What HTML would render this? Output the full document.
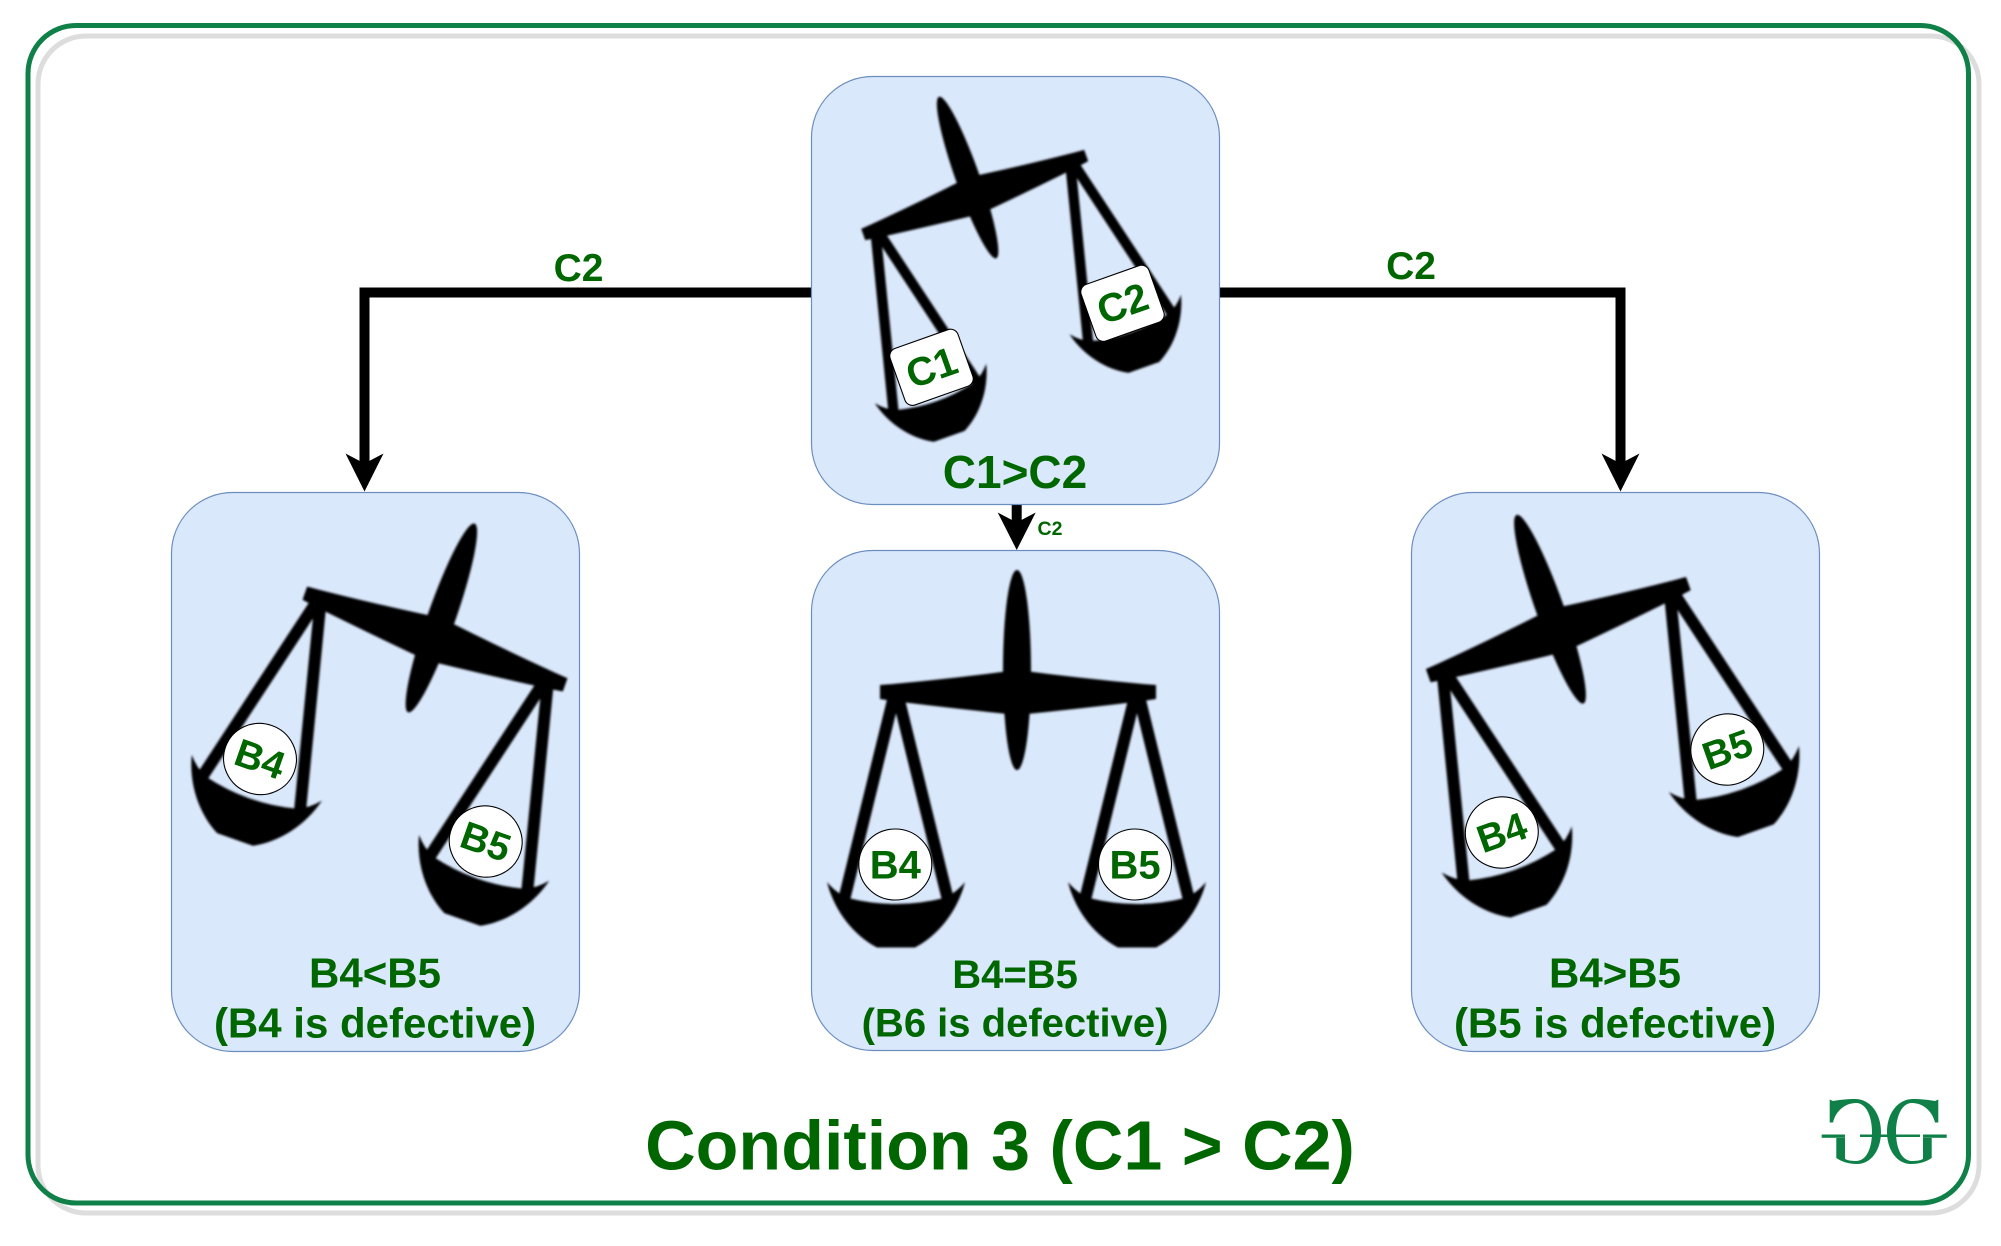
<!DOCTYPE html>
<html lang="en">
<head>
<meta charset="utf-8">
<title>Condition 3 (C1 &gt; C2)</title>
<style>
html,body{margin:0;padding:0;background:#fff;}
svg{display:block;}
text{font-family:"Liberation Sans",Arial,sans-serif;font-weight:700;fill:#006600;text-anchor:middle;}
.box{fill:#dae8fc;stroke:#6c8ebf;stroke-width:1.2;}
.lbl{fill:#fff;stroke:#000;stroke-width:1.1;}
</style>
</head>
<body>
<svg width="2001" height="1246" viewBox="0 0 2001 1246" xmlns="http://www.w3.org/2000/svg">
<defs>
<filter id="soft" x="-10%" y="-10%" width="120%" height="120%"><feGaussianBlur stdDeviation="1.1"/></filter>
<g id="scale" filter="url(#soft)">
  <ellipse cx="-1" cy="-22" rx="14" ry="100" fill="#000"/>
  <path d="M-138,-7 L-125,-8 Q-60,-14 -1,-22 Q60,-14 125,-8 L138,-7 L138,7 L125,9 Q60,17 -1,23 Q-60,17 -125,9 L-138,7 Z" fill="#000"/>
  <g stroke="#000" stroke-width="12" fill="none">
    <path d="M-175,212 L-122,-4 L-69,212"/>
    <path d="M66,212 L119,-4 L172,212"/>
  </g>
  <path d="M-191,190 C-184,218 -165,243 -141,255.5 L-103,255.5 C-79,243 -60,218 -53,190 Q-62,201 -74,206 Q-122,218 -170,206 Q-182,201 -191,190 Z" fill="#000"/>
  <path d="M50,190 C57,218 76,243 100,255.5 L138,255.5 C162,243 181,218 188,190 Q179,201 167,206 Q119,218 71,206 Q59,201 50,190 Z" fill="#000"/>
</g>
</defs>

<rect x="0" y="0" width="2001" height="1246" fill="#fff"/>

<!-- frame -->
<rect x="38" y="36" width="1941" height="1177" rx="48" ry="48" fill="#fff" stroke="#dddddd" stroke-width="5"/>
<rect x="28" y="25.5" width="1940.5" height="1177.5" rx="48" ry="48" fill="none" stroke="#0f8047" stroke-width="5"/>

<!-- connectors -->
<g fill="none" stroke="#000" stroke-width="10">
  <path d="M811,292.5 H364.5 V465"/>
  <path d="M1219,292.5 H1620.5 V465"/>
  <path d="M1016.7,504 V525"/>
</g>
<path d="M364.5,491.5 L345.5,453.5 L364.5,463.5 L383.5,453.5 Z" fill="#000"/>
<path d="M1620.5,491.5 L1601.5,453.5 L1620.5,463.5 L1639.5,453.5 Z" fill="#000"/>
<path d="M1016.7,550 L997.7,512.5 L1016.7,522.5 L1035.7,512.5 Z" fill="#000"/>

<!-- boxes -->
<rect class="box" x="811.5" y="76.5" width="408" height="428" rx="61" ry="61"/>
<rect class="box" x="171.5" y="492.5" width="408" height="559" rx="61" ry="61"/>
<rect class="box" x="811.5" y="550.5" width="408" height="500" rx="61" ry="61"/>
<rect class="box" x="1411.5" y="492.5" width="408" height="559" rx="61" ry="61"/>

<!-- scales -->
<use href="#scale" transform="translate(974.7,195) rotate(-19.5) scale(0.857)"/>
<use href="#scale" transform="translate(435,639) rotate(19.4)"/>
<use href="#scale" transform="translate(1018,692)"/>
<use href="#scale" transform="translate(1558.3,629.6) rotate(-19.5)"/>

<!-- top box labels -->
<g transform="translate(931.5,367.3) rotate(-19.5)">
  <rect class="lbl" x="-36" y="-30" width="72" height="60" rx="8" ry="8"/>
  <text x="0" y="14" font-size="40">C1</text>
</g>
<g transform="translate(1122.5,303.3) rotate(-19.5)">
  <rect class="lbl" x="-36" y="-30" width="72" height="60" rx="8" ry="8"/>
  <text x="0" y="14" font-size="40">C2</text>
</g>
<text x="1015" y="488" font-size="46">C1&gt;C2</text>

<!-- left balls -->
<g transform="translate(260,759) rotate(19.4)">
  <ellipse class="lbl" rx="36.5" ry="35.5"/>
  <text x="0" y="13.5" font-size="39">B4</text>
</g>
<g transform="translate(485.7,841.5) rotate(19.4)">
  <ellipse class="lbl" rx="36.5" ry="35.5"/>
  <text x="0" y="13.5" font-size="39">B5</text>
</g>
<!-- middle balls -->
<g transform="translate(895.3,864.5)">
  <ellipse class="lbl" rx="36.5" ry="35.5"/>
  <text x="0" y="14" font-size="40">B4</text>
</g>
<g transform="translate(1135,864.5)">
  <ellipse class="lbl" rx="36.5" ry="35.5"/>
  <text x="0" y="14" font-size="40">B5</text>
</g>
<!-- right balls -->
<g transform="translate(1501.8,832.5) rotate(-19.5)">
  <ellipse class="lbl" rx="36.5" ry="35.5"/>
  <text x="0" y="13.5" font-size="39">B4</text>
</g>
<g transform="translate(1727.3,749.5) rotate(-19.5)">
  <ellipse class="lbl" rx="36.5" ry="35.5"/>
  <text x="0" y="13.5" font-size="39">B5</text>
</g>

<!-- captions -->
<text x="375" y="987.5" font-size="42">B4&lt;B5</text>
<text x="375" y="1037.5" font-size="42">(B4 is defective)</text>
<text x="1015" y="988" font-size="40">B4=B5</text>
<text x="1015" y="1036.5" font-size="40">(B6 is defective)</text>
<text x="1615" y="987.5" font-size="42">B4&gt;B5</text>
<text x="1615" y="1037.5" font-size="42">(B5 is defective)</text>

<!-- edge labels -->
<text x="578.5" y="281" font-size="39">C2</text>
<text x="1411" y="279" font-size="39">C2</text>
<text x="1050" y="535" font-size="19.5">C2</text>

<!-- title -->
<text x="1000" y="1169.5" font-size="70">Condition 3 (C1 &gt; C2)</text>

<!-- logo -->
<g fill="#0f8047">
  <rect x="1860" y="1134.5" width="60" height="2.5"/>
  <rect x="1821.7" y="1134.5" width="23.3" height="3.3"/>
  <rect x="1923" y="1134.5" width="23.7" height="3.3"/>
  <path d="M1935,1101 L1938.3,1099.5 L1938.3,1122.5 L1935,1122.5 C1932,1110 1922,1103 1912,1103 C1901,1103 1896,1118 1896,1132 C1896,1149 1902,1161 1912,1161 C1916,1161 1920,1160.5 1923,1159 L1923,1138 L1931.7,1138 L1931.7,1158 C1926,1162 1919,1164 1911,1164 C1897,1164 1887,1150 1887,1132 C1887,1113 1898,1099 1913,1099 C1921,1099 1929,1100 1935,1101 Z"/>
  <path transform="matrix(-1 0 0 1 3768 0)" d="M1935,1101 L1938.3,1099.5 L1938.3,1122.5 L1935,1122.5 C1932,1110 1922,1103 1912,1103 C1901,1103 1896,1118 1896,1132 C1896,1149 1902,1161 1912,1161 C1916,1161 1920,1160.5 1923,1159 L1923,1138 L1931.7,1138 L1931.7,1158 C1926,1162 1919,1164 1911,1164 C1897,1164 1887,1150 1887,1132 C1887,1113 1898,1099 1913,1099 C1921,1099 1929,1100 1935,1101 Z"/>
</g>
</svg>
</body>
</html>
